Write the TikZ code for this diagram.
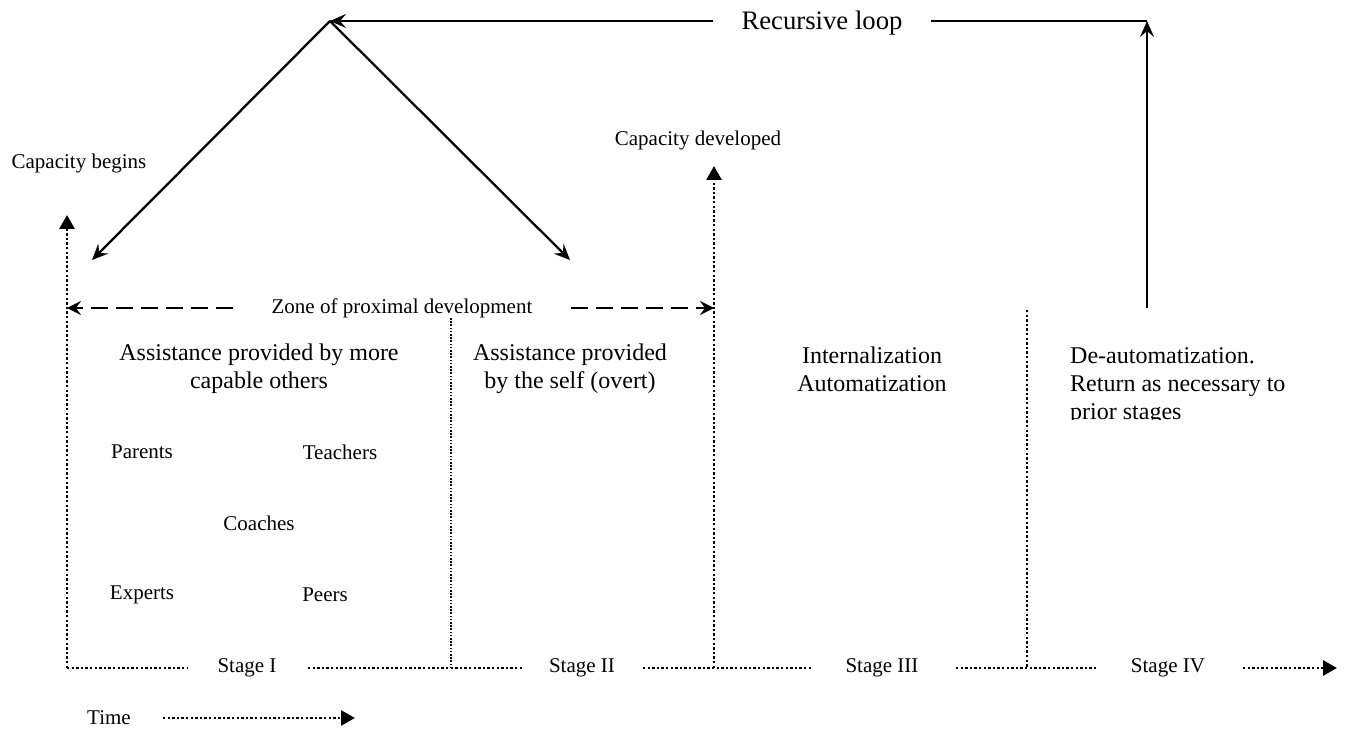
\documentclass[tikz,border=0pt]{standalone}
\usepackage{fontspec}
\setmainfont{Liberation Serif}
\usetikzlibrary{arrows.meta}
\begin{document}
\begin{tikzpicture}[x=1pt,y=-1pt,
  solidline/.style={line width=2.3pt},
  solidarr/.style={solidline,-{Stealth[length=16pt,width=14pt,inset=6pt]}},
  dotline/.style={line width=2.8pt,dash pattern=on 2.4pt off 2.2pt},
  dotarr/.style={dotline,-{Triangle[length=14pt,width=15pt]}},
  thindot/.style={line width=1.6pt,dash pattern=on 1.6pt off 1.6pt},
  dasharr/.style={line width=2.8pt,dash pattern=on 17pt off 8pt,-{Stealth[length=14pt,width=14pt,inset=5pt]}},
  lbl/.style={inner sep=0pt,font=\fontsize{21}{25}\selectfont},
  blk/.style={inner sep=0pt,align=center,font=\fontsize{24}{28}\selectfont},
  recurlbl/.style={inner ysep=0pt,inner xsep=28pt,font=\fontsize{26.7}{30}\selectfont},
]
\useasboundingbox (0,0) rectangle (1353,730);

% recursive loop
\coordinate (apex) at (330,21);
\coordinate (corner) at (1147,21);
\coordinate (loopfoot) at (1147,308);
\coordinate (zpdleft) at (92,260);
\coordinate (zpdright) at (570,260);
\node[recurlbl] (recur) at (822,23) {Recursive loop};
\draw[solidarr] (loopfoot) -- (corner);
\draw[solidline] (corner) -- (recur.east |- corner);
\draw[solidarr] (recur.west |- corner) -- (apex);
\draw[solidarr] (apex) -- (zpdleft);
\draw[solidarr] (apex) -- (zpdright);

% capacity arrows
\node[lbl] (capb) at (79,163) {Capacity begins};
\node[lbl] (capd) at (698,140) {Capacity developed};
\coordinate (origin) at (67,668);
\coordinate (capbtip) at (67,215);
\coordinate (capdfoot) at (714,668);
\coordinate (capdtip) at (714,166);
\draw[dotarr] (origin) -- (capbtip);
\draw[dotarr] (capdfoot) -- (capdtip);

% zone of proximal development
\node[lbl,inner xsep=38pt] (zone) at (402,308) {Zone of proximal development};
\coordinate (zl) at (67,308);
\coordinate (zr) at (714,308);
\draw[dasharr] (zone.west) -- (zl);
\draw[dasharr] (zone.east) -- (zr);

% dividers
\coordinate (div1top) at (451,318);
\coordinate (div1foot) at (451,668);
\coordinate (div3top) at (1027,310);
\coordinate (div3foot) at (1027,668);
\draw[thindot] (div1top) -- (div1foot);
\draw[dotline] (div3top) -- (div3foot);

% stage texts
\node[blk] (b1) at (259,369) {Assistance provided by more\\capable others};
\node[blk] (b2) at (570,369) {Assistance provided\\by the self (overt)};
\node[blk] (b3) at (872,369) {Internalization\\Automatization};
\begin{scope}
\clip (1040,330) rectangle (1330,419);
\node[blk,align=left,anchor=north west] (b4) at (1070,347) {De-automatization.\\Return as necessary to\\prior stages};
\end{scope}

% helpers
\node[lbl] (parents) at (142,452) {Parents};
\node[lbl] (teachers) at (340,452) {Teachers};
\node[lbl] (coaches) at (259,523) {Coaches};
\node[lbl] (experts) at (142,595) {Experts};
\node[lbl] (peers) at (325,595) {Peers};

% time axis
\node[lbl] (s1) at (247,668) {Stage I};
\node[lbl] (s2) at (582,668) {Stage II};
\node[lbl] (s3) at (882,668) {Stage III};
\node[lbl] (s4) at (1168,668) {Stage IV};
\coordinate (a1) at (188,668);
\coordinate (a2) at (308,668);
\coordinate (a3) at (522,668);
\coordinate (a4) at (643,668);
\coordinate (a5) at (811,668);
\coordinate (a6) at (956,668);
\coordinate (a7) at (1096,668);
\coordinate (a8) at (1243,668);
\coordinate (a9) at (1337,668);
\draw[dotline] (origin) -- (a1);
\draw[dotline] (a2) -- (a3);
\draw[dotline] (a4) -- (a5);
\draw[dotline] (a6) -- (a7);
\draw[dotarr] (a8) -- (a9);

\node[lbl] (time) at (109,718) {Time};
\coordinate (t1) at (163,718);
\coordinate (t2) at (355,718);
\draw[dotarr] (t1) -- (t2);
\end{tikzpicture}
\end{document}
